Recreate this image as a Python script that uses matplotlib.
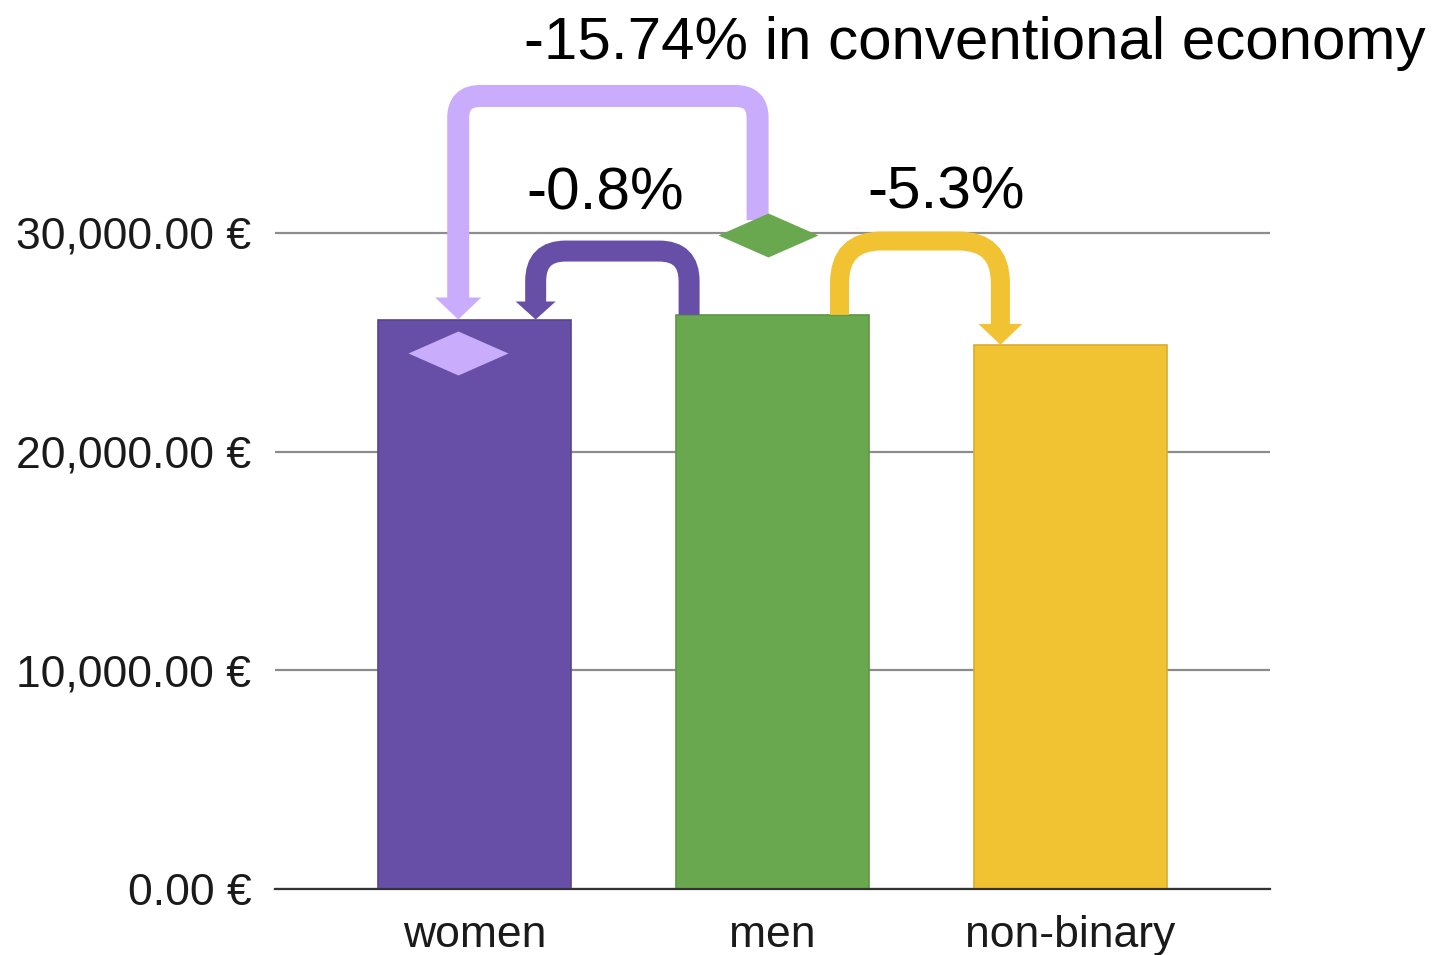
import matplotlib
matplotlib.use("Agg")
import matplotlib.pyplot as plt
from matplotlib.path import Path
from matplotlib.patches import PathPatch, Polygon
from matplotlib.transforms import IdentityTransform
from matplotlib.ticker import FuncFormatter

# data
groups = ["women", "men", "non-binary"]
income = [26040, 26250, 24880]
conventional = [24500, 29900]   # women, men in conventional economy (diamonds)
gap_labels = ["-15.74% in conventional economy", "-0.8%", "-5.3%"]
yticks = [0, 10000, 20000, 30000]

bar_colors = ["#674ea7", "#6aa84f", "#f1c232"]
edge_colors = ["#5a4391", "#5e9645", "#d9ae2c"]
light_purple = "#c9adfc"
diamond_colors = [light_purple, "#6aa84f"]

plt.rcParams["font.family"] = ["Liberation Sans", "DejaVu Sans"]

fig = plt.figure(figsize=(14.4, 9.55), dpi=100)
ax = fig.add_axes([275 / 1440, 66 / 955, 995 / 1440, 874.8 / 955])
ax.set_xlim(-0.67, 2.67)
ax.set_ylim(0, 40000)

xs = list(range(len(groups)))
ax.bar(xs, income, width=0.65, color=bar_colors, edgecolor=edge_colors,
       linewidth=1.2, zorder=2)

# diamonds
diamond = Path([(-1, 0), (0, 0.44), (1, 0), (0, -0.44), (-1, 0)],
               [Path.MOVETO, Path.LINETO, Path.LINETO, Path.LINETO, Path.CLOSEPOLY])
d_off = [-0.055, -0.015]
for i, v in enumerate(conventional):
    ax.plot([xs[i] + d_off[i]], [v], marker=diamond, ms=72, ls="none",
            color=diamond_colors[i], mec="none", zorder=5, clip_on=False)

# axes styling
ax.set_yticks(yticks)
ax.yaxis.set_major_formatter(FuncFormatter(lambda v, p: f"{v:,.2f} €"))
ax.set_xticks(xs)
ax.set_xticklabels(groups)
ax.yaxis.grid(True, color="#8c8c8c", lw=1.6)
ax.set_axisbelow(True)
for s in ["top", "right", "left"]:
    ax.spines[s].set_visible(False)
ax.spines["bottom"].set_color("#333333")
ax.spines["bottom"].set_linewidth(1.6)
ax.tick_params(axis="y", length=0, pad=17, labelsize=32, labelcolor="#1a1a1a")
ax.tick_params(axis="x", length=0, pad=19, labelsize=32, labelcolor="#1a1a1a")


def bent_arrow(x0, y0, x1, y1, top, color, lw_px, r, head_w, head_l, start_gap=0):
    X0, Y0 = ax.transData.transform((x0, y0))
    X1, Y1 = ax.transData.transform((x1, y1))
    T = ax.transData.transform((0, top))[1]
    sx = 1 if X1 > X0 else -1
    Ye = Y1 + head_l
    verts = [(X0, Y0 + start_gap), (X0, T - r), (X0, T), (X0 + sx * r, T),
             (X1 - sx * r, T), (X1, T), (X1, T - r), (X1, Ye - 1)]
    codes = [Path.MOVETO, Path.LINETO, Path.CURVE3, Path.CURVE3,
             Path.LINETO, Path.CURVE3, Path.CURVE3, Path.LINETO]
    ax.add_patch(PathPatch(Path(verts, codes), fill=False, ec=color, lw=lw_px * 0.72,
                           capstyle="butt", joinstyle="miter",
                           transform=IdentityTransform(), clip_on=False, zorder=3))
    ax.add_patch(Polygon([(X1 - head_w / 2, Ye), (X1 + head_w / 2, Ye), (X1, Y1)],
                         closed=True, fc=color, ec="none",
                         transform=IdentityTransform(), clip_on=False, zorder=3))


# men -> women (conventional economy)
bent_arrow(xs[1] + d_off[1] - 0.035, conventional[1], xs[0] + d_off[0], income[0],
           36260, light_purple, 22, 22, 46, 22, start_gap=15)
# men -> women
bent_arrow(xs[1] - 0.28, income[1], xs[0] + 0.205, income[0],
           29170, bar_colors[0], 21, 30, 40, 18)
# men -> non-binary
bent_arrow(xs[1] + 0.225, income[1], xs[2] - 0.235, income[2],
           29630, bar_colors[2], 19, 42, 44, 21)

ax.text(0.165, 37950, gap_labels[0], fontsize=43.3, ha="left", va="baseline",
        color="black", clip_on=False)
ax.text(0.44, 31050, gap_labels[1], fontsize=43.5, ha="center", va="baseline",
        color="black", clip_on=False)
ax.text(1.584, 31100, gap_labels[2], fontsize=43.5, ha="center", va="baseline",
        color="black", clip_on=False)

fig.savefig("out.png", dpi=100)
